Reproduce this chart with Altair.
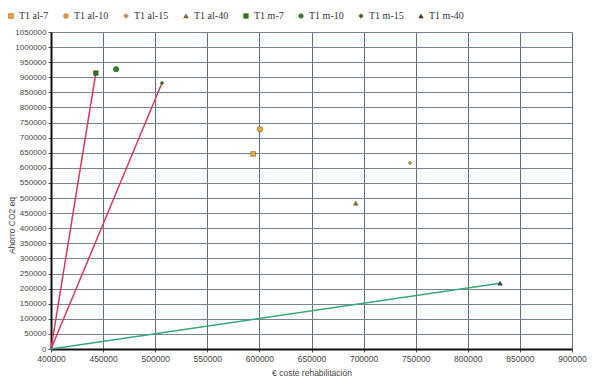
import altair as alt
import pandas as pd

series = ["T1 al-7", "T1 al-10", "T1 al-15", "T1 al-40", "T1 m-7", "T1 m-10", "T1 m-15", "T1 m-40"]
cost = [594000, 600500, 744500, 692500, 443000, 462500, 506500, 831000]
co2 = [646000, 728000, 616000, 483000, 914000, 927000, 881000, 218000]
shapes = ["square", "circle", "diamond", "triangle-up", "square", "circle", "diamond", "triangle-up"]
fills = ["#f2a93a", "#f0a830", "#c8a050", "#8a7035", "#1f7a1f", "#1e8a2a", "#1f6f1f", "#333333"]
sizes = [22, 30, 14, 22, 22, 30, 14, 22]

line_names = ["m-7", "m-15", "m-40"]
line_x0 = [400000, 400000, 400000]
line_y0 = [0, 0, 0]
line_x1 = [443000, 506500, 831000]
line_y1 = [914000, 881000, 218000]
line_colors = ["#d8395a", "#d8395a", "#38a878"]

x_ticks = list(range(400000, 900001, 50000))
y_ticks = list(range(0, 1050001, 50000))

pts = pd.DataFrame({"serie": series, "coste": cost, "ahorro": co2, "size": sizes})

rows = []
for n, a, b, c, d in zip(line_names, line_x0, line_y0, line_x1, line_y1):
    rows.append({"linea": n, "coste": a, "ahorro": b, "o": 0})
    rows.append({"linea": n, "coste": c, "ahorro": d, "o": 1})
lines = pd.DataFrame(rows)

xscale = alt.Scale(domain=[400000, 900000], nice=False, zero=False)
yscale = alt.Scale(domain=[0, 1050000], nice=False)

xaxis = alt.Axis(values=x_ticks, format="d", title="€ coste rehabilitación",
                 grid=True, gridColor="#5f6f7c", gridWidth=1, domainColor="#111", domainWidth=2,
                 tickColor="#555", tickSize=3, labelFont="Liberation Sans", labelFontSize=8.5,
                 labelColor="#444", titleFont="Liberation Sans", titleFontSize=8.5, titleFontWeight="normal",
                 titleColor="#444", titlePadding=6, labelPadding=2, labelOverlap=False, labelFlush=False)
yaxis = alt.Axis(values=y_ticks, tickCount=22, format="d", title="Ahorro CO2 eq",
                 grid=True, gridColor="#76858f", gridWidth=1, domainColor="#111", domainWidth=2,
                 tickColor="#555", tickSize=3, labelFont="Liberation Sans", labelFontSize=8,
                 labelColor="#444", titleFont="Liberation Sans", titleFontSize=8.5, titleFontWeight="normal",
                 titleColor="#444", titleX=-35, titleY=193, titleBaseline="bottom", titleAngle=270,
                 labelPadding=2, labelOverlap=False, labelFlush=False, labelBound=False)

line_layer = alt.Chart(lines).mark_line(strokeWidth=1.5).encode(
    x=alt.X("coste:Q", scale=xscale, axis=xaxis),
    y=alt.Y("ahorro:Q", scale=yscale, axis=yaxis),
    detail="linea:N",
    order="o:Q",
    stroke=alt.Stroke("linea:N", scale=alt.Scale(domain=line_names, range=line_colors), legend=None),
)

point_layer = alt.Chart(pts).mark_point(filled=True, opacity=1, stroke="#5a4a20", strokeWidth=0.5).encode(
    x=alt.X("coste:Q", scale=xscale, axis=xaxis),
    y=alt.Y("ahorro:Q", scale=yscale, axis=yaxis),
    color=alt.Color("serie:N", scale=alt.Scale(domain=series, range=fills),
                    legend=alt.Legend(title=None, orient="none", direction="horizontal", columns=8,
                                      legendX=-45, legendY=-21, labelFont="Liberation Serif",
                                      labelFontSize=10, labelColor="#333", symbolSize=22,
                                      columnPadding=12, symbolStrokeWidth=0.5, labelOffset=3)),
    shape=alt.Shape("serie:N", scale=alt.Scale(domain=series, range=shapes), legend=None),
    size=alt.Size("size:Q", scale=None, legend=None),
)

chart = alt.layer(line_layer, point_layer).properties(
    width=521, height=317,
    autosize=alt.AutoSizeParams(type="none"),
    padding={"left": 43, "top": 24, "right": 20, "bottom": 30},
).configure_view(stroke="#888", strokeWidth=1).configure(background="white")

chart.save("out.html", embed_options={"renderer": "svg", "actions": False})
